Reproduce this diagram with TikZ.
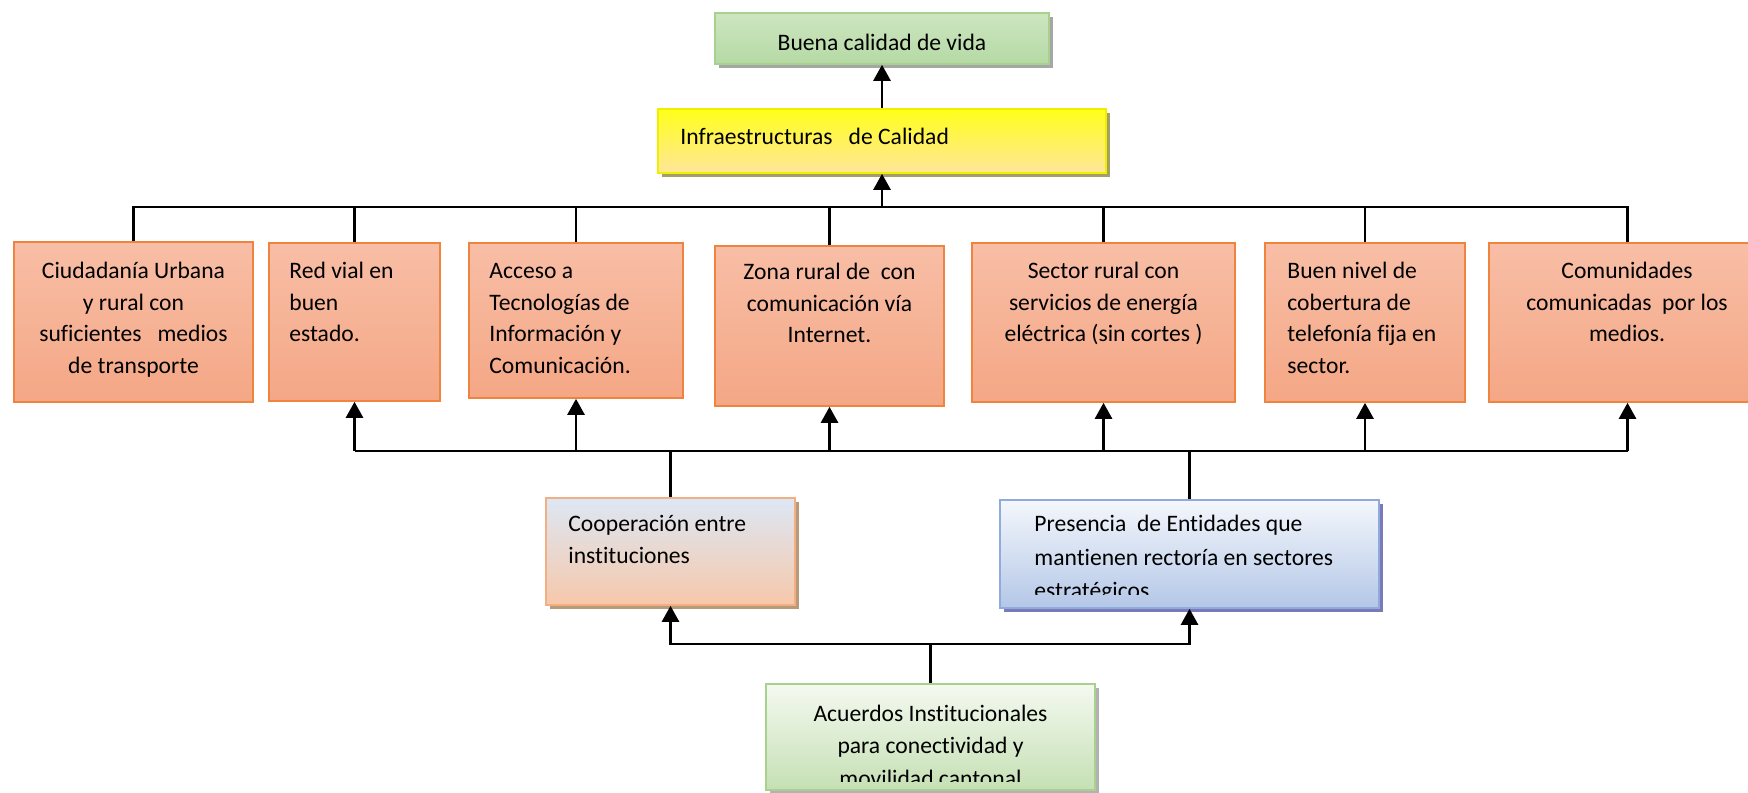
\documentclass[tikz,border=0pt]{standalone}
\usepackage{fontspec}
\setmainfont{Carlito}[Ligatures=NoCommon]
\usetikzlibrary{arrows.meta,shadows}
\definecolor{orA}{HTML}{F8BEA6}
\definecolor{orB}{HTML}{F4A785}
\definecolor{orD}{HTML}{EE8440}
\definecolor{grA}{HTML}{CDE6C1}
\definecolor{grM}{HTML}{E6F2E0}
\definecolor{grB}{HTML}{B5D9A4}
\definecolor{grD}{HTML}{A9D18E}
\definecolor{yeA}{HTML}{FFFF1A}
\definecolor{yeB}{HTML}{FFE69A}
\definecolor{yeD}{HTML}{F2EE00}
\definecolor{coA}{HTML}{DCE7F5}
\definecolor{coB}{HTML}{F7C8AA}
\definecolor{coD}{HTML}{F3AF82}
\definecolor{peA}{HTML}{F4F7FC}
\definecolor{peB}{HTML}{B4C7E7}
\definecolor{peD}{HTML}{8FAADC}
\definecolor{acA}{HTML}{F4F9F0}
\definecolor{acB}{HTML}{C5E0B4}
\newcommand{\mytopstrut}{\rule{0pt}{10pt}}
\begin{document}
\begin{tikzpicture}[x=0.5pt,y=-0.5pt,
  box/.style={rectangle, inner sep=0pt, line width=0.8pt},
  obox/.style={box, draw=orD, top color=orA, bottom color=orB},
  shad/.style={drop shadow={shadow xshift=2pt, shadow yshift=-2pt, fill=#1, opacity=1}},
  txt/.style={inner sep=0pt, font=\fontsize{11.8}{15.8}\selectfont, text=black},
  conn/.style={line width=1.3pt, draw=black},
  arr/.style={conn, -{Triangle[width=8.5pt,length=8pt]}}]
\clip (0,0) rectangle (1748,792);
\fill[white] (0,0) rectangle (1748,792);

% top boxes
\node[box, draw=grD, top color=grA, middle color=grM, bottom color=grB, shad=gray!70,
      minimum width=167pt, minimum height=25.5pt] (vida) at (882,38.5) {};
\node[txt] (tvida) at (882,42) {Buena calidad de vida};
\node[box, draw=yeD, top color=yeA, bottom color=yeB, shad={black!35!yellow!60!gray},
      minimum width=224pt, minimum height=32pt] (yel) at (882,141) {};
\node[txt, anchor=north west] (tyel) at (680,124) {\mytopstrut Infraestructuras~~~de Calidad};

% orange row
\node[obox, minimum width=119.5pt, minimum height=80pt] (o1) at (133.5,322) {};
\node[obox, minimum width=85.5pt, minimum height=79pt] (o2) at (354.5,322) {};
\node[obox, minimum width=107pt, minimum height=77.5pt] (o3) at (576,320.5) {};
\node[obox, minimum width=114.5pt, minimum height=80pt] (o4) at (829.5,326) {};
\node[obox, minimum width=131.5pt, minimum height=79.5pt] (o5) at (1103.5,322.5) {};
\node[obox, minimum width=100pt, minimum height=79.5pt] (o6) at (1365,322.5) {};
\node[obox, minimum width=138.5pt, minimum height=79.5pt] (o7) at (1627.5,322.5) {};

\node[txt, anchor=north, align=center] (t1) at (133.5,258)
  {\mytopstrut Ciudadanía Urbana\\y rural con\\suficientes~~~medios\\de transporte};
\node[txt, anchor=north west, align=left] (t2) at (289,258)
  {\mytopstrut Red vial en\\buen\\estado.};
\node[txt, anchor=north west, align=left] (t3) at (489,258)
  {\mytopstrut Acceso a\\Tecnologías de\\Información y\\Comunicación.};
\node[txt, anchor=north, align=center] (t4) at (829.5,259)
  {\mytopstrut Zona rural de~~con\\comunicación vía\\Internet.};
\node[txt, anchor=north, align=center] (t5) at (1103.5,258)
  {\mytopstrut Sector rural con\\servicios de energía\\eléctrica (sin cortes )};
\node[txt, anchor=north west, align=left] (t6) at (1287,258)
  {\mytopstrut Buen nivel de\\cobertura de\\telefonía fija en\\sector.};
\node[txt, anchor=north, align=center] (t7) at (1627,258)
  {\mytopstrut Comunidades\\comunicadas~~por los\\medios.};

% lower boxes
\node[box, draw=coD, top color=coA, bottom color=coB, shad={brown!60!gray!80},
      minimum width=124.5pt, minimum height=53.5pt] (coop) at (670.5,551.5) {};
\node[txt, anchor=north west, align=left] (tcoop) at (568,511)
  {\mytopstrut Cooperación entre\\instituciones};
\node[box, draw=peD, top color=peA, bottom color=peB, shad={blue!30!gray!80},
      minimum width=189.5pt, minimum height=54pt] (pres) at (1189.5,554) {};
\begin{scope}
\clip (1000,480) rectangle (1379,594);
\node[txt, anchor=north west, align=left, font=\fontsize{11.8}{16.8}\selectfont] (tpres) at (1034,511)
  {\mytopstrut Presencia~~de Entidades que\\mantienen rectoría en sectores\\estratégicos};
\end{scope}
\node[box, draw=grD, top color=acA, bottom color=acB, shad=gray!60,
      minimum width=164.5pt, minimum height=53pt] (acu) at (930.5,737) {};
\begin{scope}
\clip (766,680) rectangle (1095,781);
\node[txt, anchor=north, align=center, font=\fontsize{11.8}{16.2}\selectfont] (tacu) at (930.5,701)
  {\mytopstrut Acuerdos Institucionales\\para conectividad y\\movilidad cantonal};
\end{scope}

% top bus
\coordinate (tb) at (882,207);
\draw[conn] (o1.north) |- (tb) -| (o7.north);
\foreach \n in {o2,o3,o4,o5,o6} \draw[conn] (\n.north) -- (\n.north |- tb);
\draw[arr] (tb) -- (yel.south);
\draw[arr] (yel.north) -- (vida.south);

% lower bus
\coordinate (lb) at (882,451);
\draw[conn] (o2.south |- lb) -- (o7.south |- lb);
\foreach \n in {o2,o3,o4,o5,o6,o7} \draw[arr] (\n.south |- lb) -- (\n.south);
\draw[conn] (coop.north) -- (coop.north |- lb);
\draw[conn] (pres.north) -- (pres.north |- lb);

% bottom bus
\coordinate (bb) at (930.5,644);
\draw[conn] (acu.north) -- (bb);
\draw[arr] (bb) -| (coop.south);
\draw[arr] (bb) -| (pres.south);
\end{tikzpicture}
\end{document}
